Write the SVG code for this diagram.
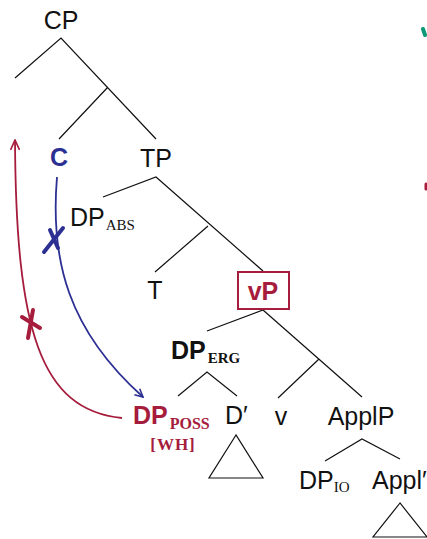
<svg xmlns="http://www.w3.org/2000/svg" width="427" height="539" viewBox="0 0 427 539">
<defs>
<style>
.t{font-family:"Liberation Sans",Arial,sans-serif;font-size:25px;fill:#111}
.b{font-weight:bold}
.sub{font-family:"Liberation Serif","Times New Roman",serif;font-size:15px}
.red{fill:#a61c3c}
.blue{fill:#2d3093}
.e{stroke:#111;stroke-width:1.2;fill:none}
.ar{fill:none;stroke-width:1.8}
</style>
<marker id="mb" viewBox="0 0 10 10" refX="9" refY="5" markerWidth="10" markerHeight="10" markerUnits="userSpaceOnUse" orient="auto">
<path d="M1,1 L9,5 L1,9" fill="none" stroke="#2d3093" stroke-width="1.6"/>
</marker>
<marker id="mr" viewBox="0 0 12 10" refX="11" refY="5" markerWidth="12" markerHeight="10" markerUnits="userSpaceOnUse" orient="auto">
<path d="M1,0.5 L11,5 L1,9.5" fill="none" stroke="#a61c3c" stroke-width="1.6"/>
</marker>
</defs>
<rect width="427" height="539" fill="#fff"/>
<g id="edges">
<path class="e" d="M15,78 L61,38 L156,139 M108,87 L59,139"/>
<path class="e" d="M103,197 L156,177 L263,271 M208,226 L155,272"/>
<path class="e" d="M207,331 L263,310 L362,397 M319,359 L278,398"/>
<path class="e" d="M178,396 L207,372 L237,396"/>
<path class="e" d="M325,461 L362,439 L400,459"/>
<path class="e" d="M236,435 L209,478 L263,478 Z"/>
<path class="e" d="M400,503 L373,537 L427,537 Z"/>
</g>
<g id="CP"><text class="t" x="61" y="29" text-anchor="middle">CP</text></g>
<g id="C"><text class="t b blue" x="59" y="166" text-anchor="middle">C</text></g>
<g id="TP"><text class="t" x="156" y="167" text-anchor="middle">TP</text></g>
<g id="DP_ABS"><text class="t" x="70" y="226">DP<tspan class="sub" dx="1" dy="4">ABS</tspan></text></g>
<g id="T"><text class="t" x="155" y="299" text-anchor="middle">T</text></g>
<g id="vP"><rect x="238" y="272" width="51" height="37" fill="#fff" stroke="#a61c3c" stroke-width="2"/><text class="t b red" x="263" y="300" text-anchor="middle">vP</text></g>
<g id="DP_ERG"><text class="t b" x="171" y="359">DP<tspan class="sub" dx="2" dy="4">ERG</tspan></text></g>
<g id="DP_POSS"><text class="t b red" x="133" y="424">DP<tspan class="sub" dx="2" dy="5" style="font-size:16px">POSS</tspan></text><text class="sub b red" x="173" y="450" text-anchor="middle" style="font-size:17px;letter-spacing:1px">[WH]</text></g>
<g id="Dbar"><text class="t" x="225" y="424">D′</text></g>
<g id="v"><text class="t" x="281" y="425" text-anchor="middle">v</text></g>
<g id="ApplP"><text class="t" x="361" y="425" text-anchor="middle">ApplP</text></g>
<g id="DP_IO"><text class="t" x="299" y="489">DP<tspan class="sub" dx="0" dy="3">IO</tspan></text></g>
<g id="Applbar"><text class="t" x="372" y="489">Appl′</text></g>
<g id="arrows">
<path class="ar" stroke="#2d3093" d="M57,177 C50,260 68,330 143,397" marker-end="url(#mb)"/>
<path d="M44,252 L63,228 M50,230 L58,248" stroke="#2d3093" stroke-width="4" stroke-linecap="round" fill="none"/>
<path class="ar" stroke="#a61c3c" d="M122,418 C40,410 16,330 15,140" marker-end="url(#mr)"/>
<path d="M22,317 L40,328 M33,310 L28,338" stroke="#a61c3c" stroke-width="4" stroke-linecap="round" fill="none"/>
</g>
<path d="M423,29 L425,35" stroke="#0e9a78" stroke-width="4" stroke-linecap="round"/>
<path d="M426,184 L426,189" stroke="#a61c3c" stroke-width="3" stroke-linecap="round"/>
</svg>
